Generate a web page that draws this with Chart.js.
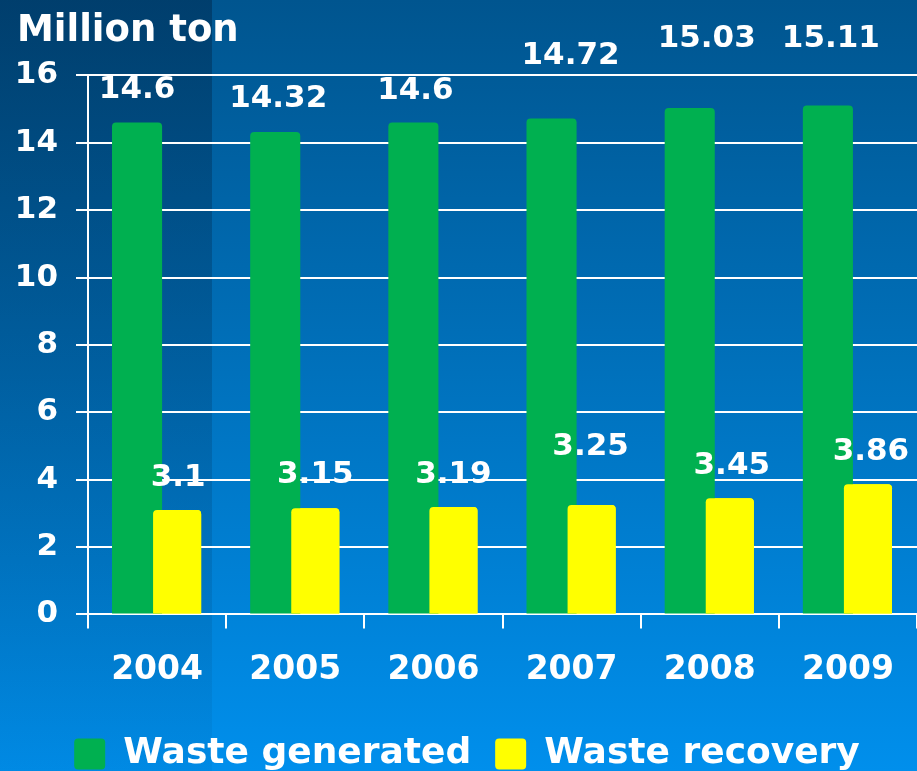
<!DOCTYPE html>
<html>
<head>
<meta charset="utf-8">
<title>Waste generated and recovery</title>
<script src="https://cdn.jsdelivr.net/npm/chart.js@4.4.1/dist/chart.umd.min.js"></script>
<style>
    html, body {
        margin: 0;
        padding: 0;
        overflow: hidden;
    }
    body {
        width: 917px;
        height: 771px;
        position: relative;
        background: linear-gradient(to bottom, #00558f 0%, #008fec 100%);
    }
    .shade {
        position: absolute;
        left: 0;
        top: 0;
        width: 212px;
        height: 771px;
        background: linear-gradient(to bottom, rgba(0, 10, 30, 0.30) 0%, rgba(0, 10, 30, 0.04) 100%);
    }
    canvas {
        position: absolute;
        left: 0;
        top: 0;
    }
</style>
</head>
<body>
<div class="shade"></div>
<canvas id="wasteChart" width="917" height="771"></canvas>
<script>
    // Datos
    const years = ['2004', '2005', '2006', '2007', '2008', '2009'];
    const wasteGenerated = [14.6, 14.32, 14.6, 14.72, 15.03, 15.11];
    const wasteRecovery = [3.1, 3.15, 3.19, 3.25, 3.45, 3.86];
    const yMin = 0;
    const yMax = 16;
    const yStep = 2;

    // Desplazamiento de las etiquetas (px) respecto a la parte alta de cada barra
    const generatedLabelShift = [[0, -33], [3, -33], [2, -32], [19, -63], [17, -69], [3, -66]];
    const recoveryLabelShift = [[1, -32], [0, -33], [0, -32], [-1, -58], [2, -32], [3, -32]];

    const labelFont = 'bold 31px "DejaVu Sans"';

    // Barras amarillas por encima de las verdes + etiquetas de valor
    const valueLabels = {
        id: 'valueLabels',
        afterDatasetsDraw(chart) {
            const ctx = chart.ctx;
            chart.getDatasetMeta(1).controller.draw();

            ctx.save();
            ctx.font = labelFont;
            ctx.fillStyle = '#ffffff';
            ctx.textAlign = 'center';
            ctx.textBaseline = 'middle';
            const shifts = [generatedLabelShift, recoveryLabelShift];
            chart.data.datasets.forEach((ds, d) => {
                chart.getDatasetMeta(d).data.forEach((bar, i) => {
                    const s = shifts[d][i];
                    ctx.fillText(String(ds.data[i]), bar.x + s[0], bar.y + s[1]);
                });
            });
            ctx.restore();
        }
    };

    new Chart(document.getElementById('wasteChart'), {
        type: 'bar',
        data: {
            labels: years,
            datasets: [{
                label: 'Waste generated',
                data: wasteGenerated,
                backgroundColor: '#00b050',
                borderRadius: 4,
                barPercentage: 1.25,
                categoryPercentage: 0.58
            }, {
                label: 'Waste recovery',
                data: wasteRecovery,
                backgroundColor: '#ffff00',
                borderRadius: 4,
                barPercentage: 1.2,
                categoryPercentage: 0.58
            }]
        },
        options: {
            responsive: false,
            animation: false,
            layout: {
                padding: { left: 17, right: 0, top: 0, bottom: -11 }
            },
            plugins: {
                title: {
                    display: true,
                    text: 'Million ton',
                    align: 'start',
                    color: '#ffffff',
                    font: { family: 'DejaVu Sans', size: 37, weight: 'bold' },
                    padding: { top: 9, bottom: 22 }
                },
                legend: {
                    position: 'bottom',
                    labels: {
                        color: '#ffffff',
                        font: { family: 'DejaVu Sans', size: 36, weight: 'bold' },
                        boxWidth: 31,
                        boxHeight: 31,
                        useBorderRadius: true,
                        borderRadius: 4,
                        padding: 24
                    }
                },
                tooltip: { enabled: false }
            },
            scales: {
                x: {
                    grid: {
                        color: '#ffffff',
                        lineWidth: 2,
                        drawOnChartArea: false,
                        tickLength: 14
                    },
                    border: { color: '#ffffff', width: 2 },
                    ticks: {
                        color: '#ffffff',
                        font: { family: 'DejaVu Sans', size: 33, weight: 'bold' },
                        padding: 22
                    }
                },
                y: {
                    min: yMin,
                    max: yMax,
                    afterFit(scale) {
                        scale.width = 71;
                    },
                    grid: {
                        color: '#ffffff',
                        lineWidth: 2,
                        tickLength: 12
                    },
                    border: { color: '#ffffff', width: 2 },
                    ticks: {
                        stepSize: yStep,
                        color: '#ffffff',
                        font: { family: 'DejaVu Sans', size: 31, weight: 'bold' },
                        padding: 18
                    }
                }
            }
        },
        plugins: [valueLabels]
    });
</script>
</body>
</html>
